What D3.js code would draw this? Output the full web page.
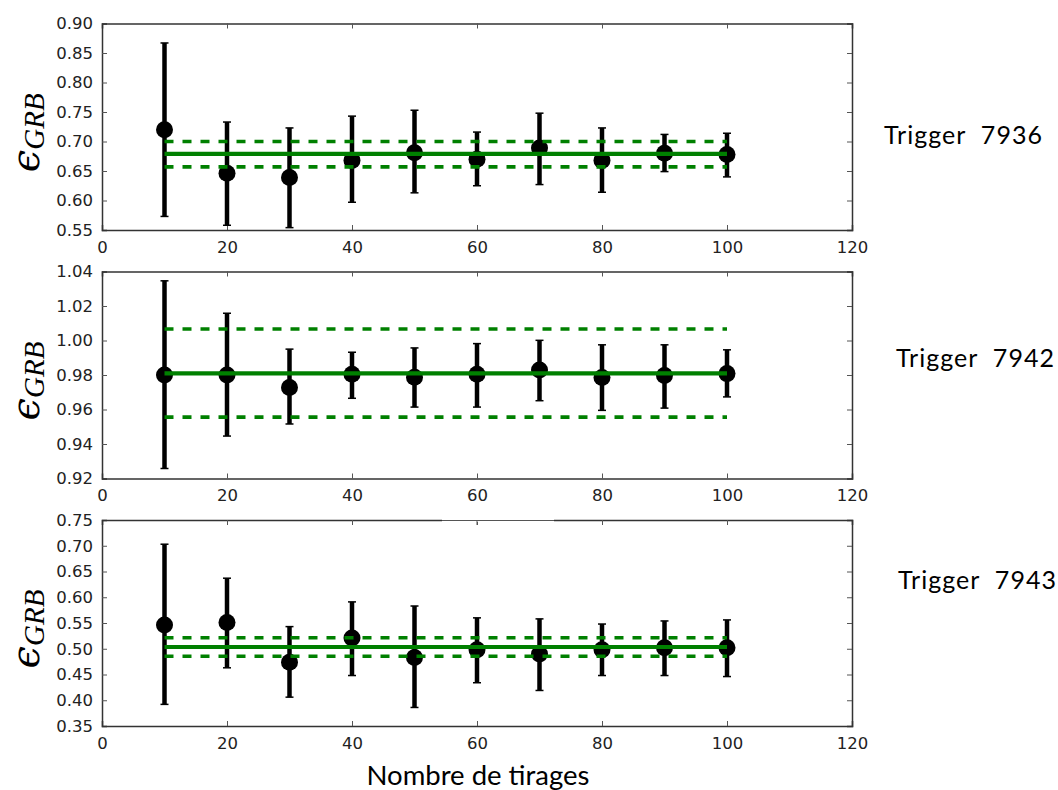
<!DOCTYPE html>
<html>
<head>
<meta charset="utf-8">
<script src="https://cdn.jsdelivr.net/npm/d3@7"></script>
<style>
  html, body { margin: 0; padding: 0; background: #fff; }
  svg { display: block; }
</style>
</head>
<body>
<svg id="chart" width="1058" height="790"></svg>
<script>
// ---------------- data ----------------
const xValues = [10, 20, 30, 40, 50, 60, 70, 80, 90, 100];
const xTicks = [0, 20, 40, 60, 80, 100, 120];

const triggers = ["Trigger  7936", "Trigger  7942", "Trigger  7943"];

const mean7936  = [0.720, 0.646, 0.639, 0.668, 0.681, 0.670, 0.689, 0.668, 0.680, 0.678];
const upper7936 = [0.867, 0.733, 0.723, 0.743, 0.753, 0.716, 0.748, 0.723, 0.712, 0.714];
const lower7936 = [0.573, 0.558, 0.554, 0.597, 0.613, 0.625, 0.627, 0.614, 0.649, 0.640];

const mean7942  = [0.9800, 0.9800, 0.9728, 0.9804, 0.9787, 0.9804, 0.9829, 0.9785, 0.9797, 0.9808];
const upper7942 = [1.0346, 1.0158, 0.9950, 0.9932, 0.9957, 0.9982, 1.0001, 0.9975, 0.9975, 0.9946];
const lower7942 = [0.9258, 0.9446, 0.9516, 0.9665, 0.9614, 0.9614, 0.9651, 0.9595, 0.9608, 0.9673];

const mean7943  = [0.546, 0.551, 0.474, 0.521, 0.483, 0.498, 0.490, 0.498, 0.502, 0.502];
const upper7943 = [0.703, 0.637, 0.543, 0.591, 0.583, 0.560, 0.558, 0.548, 0.554, 0.556];
const lower7943 = [0.392, 0.463, 0.406, 0.448, 0.386, 0.434, 0.419, 0.448, 0.448, 0.446];

const fitCenter = [0.679, 0.981, 0.5034];
const fitUpper  = [0.700, 1.0067, 0.5215];
const fitLower  = [0.657, 0.9556, 0.4853];

const yDomains = [[0.55, 0.90], [0.92, 1.04], [0.35, 0.75]];
const yTicks7936 = [0.55, 0.60, 0.65, 0.70, 0.75, 0.80, 0.85, 0.90];
const yTicks7942 = [0.92, 0.94, 0.96, 0.98, 1.00, 1.02, 1.04];
const yTicks7943 = [0.35, 0.40, 0.45, 0.50, 0.55, 0.60, 0.65, 0.70, 0.75];

const xLabel = "Nombre de tirages";

// ---------------- layout ----------------
const panels = [
  { mean: mean7936, upper: upper7936, lower: lower7936, ticks: yTicks7936, top: 23.5, bottom: 230, labelX: 884, labelY: 144 },
  { mean: mean7942, upper: upper7942, lower: lower7942, ticks: yTicks7942, top: 271.5, bottom: 478.5, labelX: 896, labelY: 367 },
  { mean: mean7943, upper: upper7943, lower: lower7943, ticks: yTicks7943, top: 520, bottom: 726, labelX: 898, labelY: 589 }
];
const left = 102, right = 852;

const svg = d3.select("#chart");
const green = "#008000";
const tickFont = "'DejaVu Sans', sans-serif";
const textFont = "Lato, 'Open Sans', sans-serif";

const x = d3.scaleLinear().domain([0, 120]).range([left, right]);

panels.forEach((p, i) => {
  const y = d3.scaleLinear().domain(yDomains[i]).range([p.bottom, p.top]);
  const g = svg.append("g");

  // axes (ticks inside, on all four sides)
  const axL = d3.axisLeft(y).tickValues(p.ticks).tickSize(-5).tickPadding(9).tickFormat(d3.format(".2f"));
  const axR = d3.axisRight(y).tickValues(p.ticks).tickSize(-5).tickFormat("");
  const axB = d3.axisBottom(x).tickValues(xTicks).tickSize(-5).tickPadding(11).tickFormat(d3.format("d"));
  const axT = d3.axisTop(x).tickValues(xTicks).tickSize(-5).tickFormat("");

  const gl = g.append("g").attr("transform", `translate(${left},0)`).call(axL);
  const gr = g.append("g").attr("transform", `translate(${right},0)`).call(axR);
  const gb = g.append("g").attr("transform", `translate(0,${p.bottom})`).call(axB);
  const gt = g.append("g").attr("transform", `translate(0,${p.top})`).call(axT);
  [gl, gr, gb, gt].forEach(a => {
    a.selectAll(".domain").attr("stroke", "#333").attr("stroke-width", 1.5);
    a.selectAll(".tick line").attr("stroke", "#555").attr("stroke-width", 1);
    a.selectAll("text").attr("font-family", tickFont).attr("font-size", 16.5).attr("fill", "#222");
  });
  [gl, gr].forEach(a => a.selectAll(".tick line").filter(d => d === yDomains[i][0] || d === yDomains[i][1]).remove());
  [gb, gt].forEach(a => a.selectAll(".tick line").filter(d => d === 0 || d === 120).remove());

  // error bars
  const eb = g.append("g");
  xValues.forEach((xv, j) => {
    eb.append("line")
      .attr("x1", x(xv)).attr("x2", x(xv))
      .attr("y1", y(p.upper[j])).attr("y2", y(p.lower[j]))
      .attr("stroke", "#000").attr("stroke-width", 4.5);
    [p.upper[j], p.lower[j]].forEach(v => {
      eb.append("line")
        .attr("x1", x(xv) - 4).attr("x2", x(xv) + 4)
        .attr("y1", y(v)).attr("y2", y(v))
        .attr("stroke", "#000").attr("stroke-width", 1.5);
    });
    eb.append("circle")
      .attr("cx", x(xv)).attr("cy", y(p.mean[j])).attr("r", 8.5)
      .attr("fill", "#000");
  });

  // fit lines
  const x0 = x(xValues[0]), x1 = x(xValues[xValues.length - 1]);
  g.append("line").attr("x1", x0).attr("x2", x1)
    .attr("y1", y(fitCenter[i])).attr("y2", y(fitCenter[i]))
    .attr("stroke", green).attr("stroke-width", 4.2);
  [fitUpper[i], fitLower[i]].forEach(v => {
    g.append("line").attr("x1", x0).attr("x2", x1)
      .attr("y1", y(v)).attr("y2", y(v))
      .attr("stroke", green).attr("stroke-width", 3.6)
      .attr("stroke-dasharray", "9,9");
  });

  // y label epsilon_GRB
  const cy = (p.top + p.bottom) / 2 + 6;
  const lab = svg.append("text")
    .attr("transform", `translate(39,${cy}) rotate(-90)`)
    .attr("text-anchor", "middle")
    .attr("fill", "#000");
  lab.append("tspan").text("ϵ")
    .attr("font-family", "'DejaVu Serif', serif").attr("font-style", "italic").attr("font-size", 40);
  lab.append("tspan").text("GRB")
    .attr("dy", 5)
    .attr("font-family", "'Liberation Serif', 'DejaVu Serif', serif").attr("font-style", "italic").attr("font-size", 29);

  // trigger label
  svg.append("text")
    .attr("x", p.labelX).attr("y", p.labelY)
    .attr("font-family", textFont).attr("font-size", 25)
    .attr("fill", "#000")
    .attr("textLength", 158).attr("lengthAdjust", "spacing")
    .style("white-space", "pre")
    .text(triggers[i]);
});

// slightly lighter segment on the top spine of the third panel (as in reference)
svg.append("rect").attr("x", 442).attr("y", 518).attr("width", 112).attr("height", 4).attr("fill", "#fff");
svg.append("line").attr("x1", 442).attr("x2", 554).attr("y1", 520.5).attr("y2", 520.5)
  .attr("stroke", "#555").attr("stroke-width", 1);
svg.append("line").attr("x1", x(60)).attr("x2", x(60)).attr("y1", 520).attr("y2", 525)
  .attr("stroke", "#555").attr("stroke-width", 1);

// x axis label
svg.append("text")
  .attr("x", 478).attr("y", 785)
  .attr("text-anchor", "middle")
  .attr("font-family", textFont).attr("font-size", 27.5)
  .attr("fill", "#000")
  .text(xLabel);
</script>
</body>
</html>
